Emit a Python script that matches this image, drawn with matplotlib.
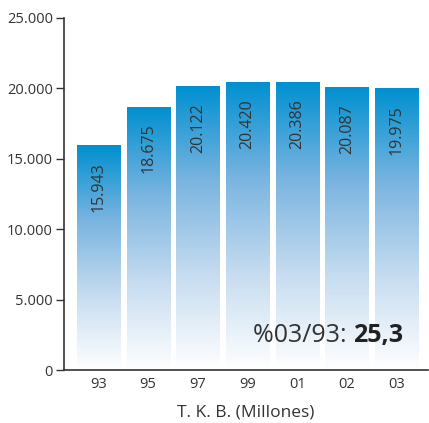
import matplotlib
matplotlib.use("Agg")
import matplotlib.pyplot as plt
import numpy as np
from matplotlib.colors import LinearSegmentedColormap

years = ["93", "95", "97", "99", "01", "02", "03"]
values = [15943, 18675, 20122, 20420, 20386, 20087, 19975]
labels = ["15.943", "18.675", "20.122", "20.420", "20.386", "20.087", "19.975"]
yticks = [0, 5000, 10000, 15000, 20000, 25000]
yticklabels = ["0", "5.000", "10.000", "15.000", "20.000", "25.000"]
note_prefix = "%03/93: "
note_value = "25,3"
xlabel = "T. K. B. (Millones)"

plt.rcParams['font.family'] = ['Open Sans', 'DejaVu Sans']
txt = '#333333'

fig = plt.figure(figsize=(4.29, 4.23), dpi=100)
ax = fig.add_axes([64/429, 53/423, 1 - 64/429 - 1/429, (370-18)/423])

cmap = LinearSegmentedColormap.from_list('g', ['#ffffff', '#c6dcf0', '#7ab4e0', '#0090d0'])
grad = np.linspace(0, 1, 256).reshape(-1, 1)
w = 0.866
x = np.arange(len(years))
for xi, v, lab in zip(x, values, labels):
    ax.imshow(grad, extent=[xi - w/2, xi + w/2, 0, v], origin='lower', cmap=cmap,
              aspect='auto', zorder=1, interpolation='bilinear')
    ax.annotate(lab, (xi, v), xytext=(0, -12), textcoords='offset points',
                rotation=90, ha='center', va='top', fontsize=11.5, color=txt)

ax.set_xlim(-0.695, 6.634)
ax.set_ylim(0, 25000)
ax.set_xticks(x)
ax.set_xticklabels(years, fontsize=10.5, color=txt)
ax.tick_params(axis='x', length=0, pad=5)
ax.set_yticks(yticks)
ax.set_yticklabels(yticklabels, fontsize=10.5, color=txt)
ax.tick_params(axis='y', length=6, width=1, color=txt, pad=2)
for s in ['top', 'right']:
    ax.spines[s].set_visible(False)
for s in ['left', 'bottom']:
    ax.spines[s].set_color(txt)
    ax.spines[s].set_linewidth(1.2)

ax.set_xlabel(xlabel, fontsize=12.5, color=txt, labelpad=9)

t1 = ax.text(0.52, 0.08, note_prefix, transform=ax.transAxes, fontsize=18,
             color=txt, ha='left', va='baseline')
fig.canvas.draw()
bb = t1.get_window_extent()
inv = ax.transAxes.inverted()
x1 = inv.transform((bb.x1, bb.y0))[0]
ax.text(x1, 0.08, note_value, transform=ax.transAxes, fontsize=18,
        color='#222222', fontweight='bold', ha='left', va='baseline')

fig.savefig("out.png", dpi=100)
